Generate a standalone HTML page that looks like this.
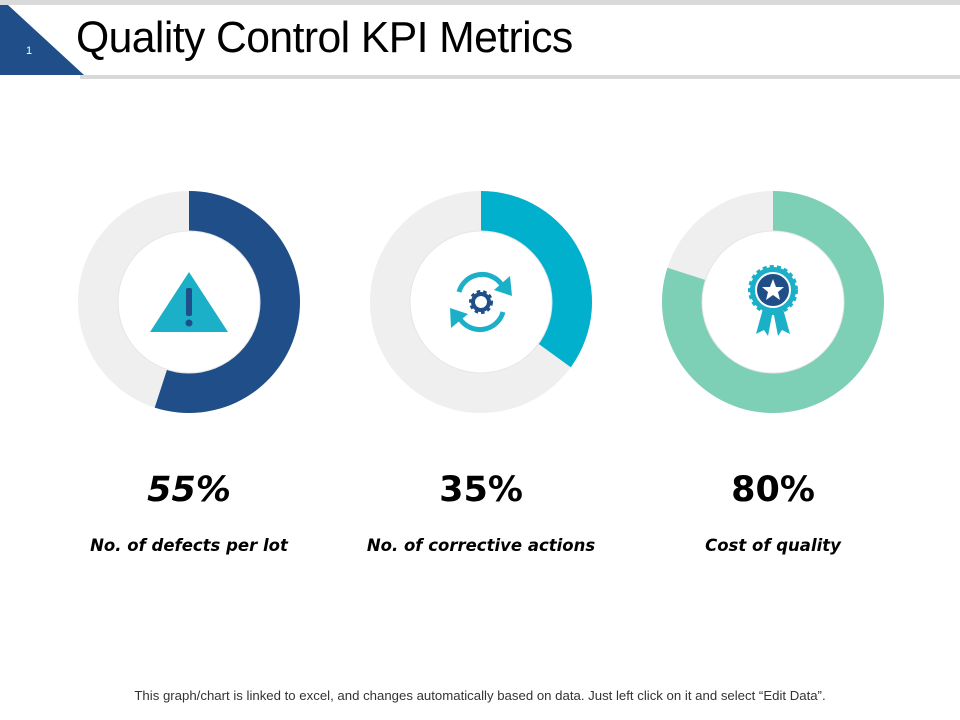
<!DOCTYPE html>
<html><head><meta charset="utf-8"><style>
body{margin:0;width:960px;height:720px;background:#fff;overflow:hidden;font-family:"Liberation Sans",sans-serif;position:relative}
.t{position:absolute}
</style></head><body>
<div class="t" style="left:0;top:0;width:960px;height:5px;background:#d9d9d9"></div>
<div class="t" style="left:80px;top:75px;width:880px;height:4px;background:#d9d9d9"></div>
<svg class="t" style="left:0;top:0" width="90" height="80"><polygon points="0,5 8,5 84,75 0,75" fill="#1f4e89"/><text x="26" y="54" font-size="11" fill="#fff" font-family="Liberation Sans">1</text></svg>
<div class="t" style="left:76px;top:13px;font-size:44px;color:#000;letter-spacing:-0.6px;transform:scaleX(0.97);transform-origin:left top;white-space:nowrap">Quality Control KPI Metrics</div>
<svg class="t" id="chart" style="left:0;top:0" width="960" height="720"></svg>
<div class="t" style="left:0;width:960px;top:688px;text-align:center;font-size:13.2px;color:#333">This graph/chart is linked to excel, and changes automatically based on data. Just left click on it and select “Edit Data”.</div>
<script>
const labels=["No. of defects per lot","No. of corrective actions","Cost of quality"];
const values=[55,35,80];
const valueLabels=["55%","35%","80%"];
const colors=["#1f4e89","#00b0cc","#7dcfb6"];
const svg=document.getElementById('chart');
const NS="http://www.w3.org/2000/svg";
const cxs=[189,481,773],cy=302,R=111,r=71;
function mk(t,a){const e=document.createElementNS(NS,t);for(const k in a)e.setAttribute(k,a[k]);svg.appendChild(e);return e;}
function pt(cx,rad,f){const a=f*2*Math.PI-Math.PI/2;return [cx+rad*Math.cos(a),cy+rad*Math.sin(a)];}
values.forEach((v,i)=>{
 const cx=cxs[i];
 const bg=mk('circle',{cx:cx,cy:cy,r:(R+r)/2,fill:'none',stroke:'#efefef','stroke-width':R-r});
 
 
 const f=v/100;const large=f>0.5?1:0;
 const [x1,y1]=pt(cx,R,0),[x2,y2]=pt(cx,R,f),[x3,y3]=pt(cx,r,f),[x4,y4]=pt(cx,r,0);
 const p=mk('path',{d:`M${x1},${y1} A${R},${R} 0 ${large} 1 ${x2},${y2} L${x3},${y3} A${r},${r} 0 ${large} 0 ${x4},${y4} Z`,fill:colors[i]});
 
 
 const ic=mk('circle',{cx:cx,cy:cy,r:r,fill:'#fff',stroke:'#e6e6e6','stroke-width':1});
 
 
 const tv=mk('text',{x:cx,y:501,'text-anchor':'middle','font-size':35,'font-weight':'bold','font-style':i==0?'italic':'normal','font-family':'DejaVu Sans, sans-serif',fill:'#000'});
 tv.textContent=valueLabels[i];
 
 
 const tl=mk('text',{x:cx,y:551,'text-anchor':'middle','font-size':16.5,'font-weight':'bold','font-style':'italic','font-family':'DejaVu Sans, sans-serif',fill:'#000'});
 tl.textContent=labels[i];
 
 
});
const g1=document.createElementNS(NS,'g');g1.innerHTML='<polygon points="189,272 150,332 228,332" fill="#1cb0c8"/><rect x="186" y="288" width="6" height="28" rx="2" fill="#1f4e89"/><circle cx="189" cy="323" r="3.5" fill="#1f4e89"/>';
svg.appendChild(g1);
const g2=document.createElementNS(NS,'g');g2.innerHTML='<path d="M459,292 A24,24 0 0 1 502,285" fill="none" stroke="#1cb0c8" stroke-width="5"/><polygon points="510,276 512,296 494,290" fill="#1cb0c8"/><path d="M503,312 A24,24 0 0 1 460,319" fill="none" stroke="#1cb0c8" stroke-width="5"/><polygon points="451,328 450,308 468,314" fill="#1cb0c8"/><circle cx="481" cy="302" r="9" fill="none" stroke="#1f4e89" stroke-width="6" stroke-dasharray="3 2.5"/><circle cx="481" cy="302" r="8" fill="none" stroke="#1f4e89" stroke-width="4"/>';
svg.appendChild(g2);
const g3=document.createElementNS(NS,'g');g3.innerHTML='<polygon points="764,305 756,334 764,330 768,336 773,310" fill="#1cb0c8"/><polygon points="782,305 790,334 782,330 778,336 773,310" fill="#1cb0c8"/><circle cx="773" cy="290" r="23" fill="#1cb0c8" stroke="#1cb0c8" stroke-width="4" stroke-dasharray="4 3"/><circle cx="773" cy="290" r="17" fill="#1f4e89" stroke="#fff" stroke-width="2"/><polygon points="773,279 776,287 784,287 778,292 780,300 773,295 766,300 768,292 762,287 770,287" fill="#fff"/>';
svg.appendChild(g3);
</script>
</body></html>
